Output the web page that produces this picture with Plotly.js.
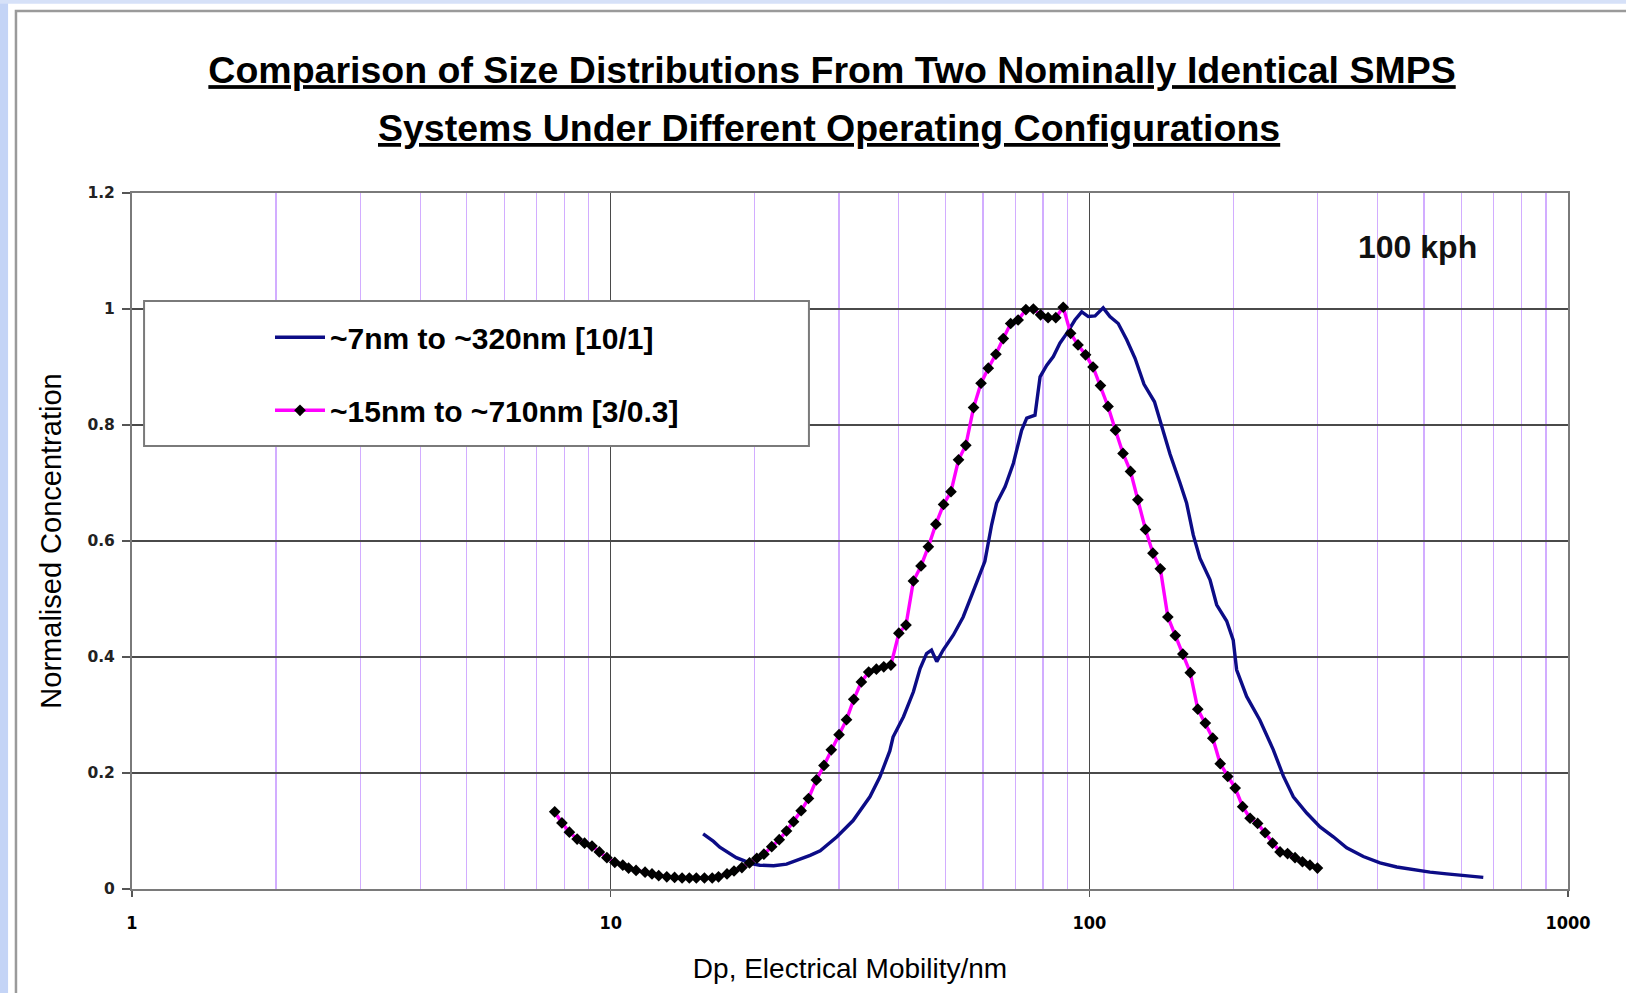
<!DOCTYPE html>
<html>
<head>
<meta charset="utf-8">
<script src="https://cdn.plot.ly/plotly-3.0.1.min.js"></script>
<style>html,body{margin:0;padding:0;background:#fff;}#chart{width:1626px;height:993px;}</style>
</head>
<body>
<div id="chart"></div>
<script>
// ~7nm to ~320nm [10/1] (navy line)
const blueX = [15.6,16.4,16.9,17.5,18.3,19.1,19.9,20.5,21.2,21.9,23.3,24.9,26.1,27.4,29.7,32.1,34.8,36.5,38.3,38.9,40.9,42.9,44.3,45.7,46.8,48.0,49.5,52.0,54.5,57.2,60.5,62.5,64.0,66.7,69.4,72.2,74.0,77.0,78.9,81.5,84.1,86.8,89.7,93.3,96.4,99.5,102.8,106.9,110.4,114.9,119.7,124.6,130.1,136.8,141.6,147.4,154.7,159.7,164.9,170.3,178.7,184.5,193.6,199.8,203.1,213.1,227.2,242.3,254.2,266.8,284.5,303.4,323.4,344.8,373.6,404.8,438.7,475.2,514.9,557.9,604.4,665.3];
const blueY = [0.095,0.082,0.072,0.064,0.054,0.048,0.043,0.041,0.040,0.040,0.043,0.051,0.058,0.066,0.090,0.118,0.159,0.193,0.238,0.262,0.297,0.340,0.380,0.406,0.412,0.392,0.412,0.438,0.469,0.513,0.565,0.628,0.665,0.694,0.734,0.791,0.812,0.817,0.883,0.903,0.918,0.941,0.958,0.981,0.995,0.987,0.988,1.002,0.987,0.975,0.947,0.915,0.870,0.840,0.800,0.750,0.700,0.665,0.610,0.570,0.533,0.490,0.462,0.429,0.378,0.332,0.291,0.240,0.195,0.159,0.131,0.107,0.090,0.071,0.056,0.045,0.038,0.033,0.029,0.026,0.023,0.020];

// ~15nm to ~710nm [3/0.3] (magenta line, black diamond markers)
const magX = [7.64,7.91,8.20,8.51,8.82,9.14,9.47,9.82,10.2,10.6,10.9,11.3,11.8,12.2,12.6,13.1,13.6,14.1,14.6,15.1,15.7,16.3,16.8,17.5,18.1,18.8,19.5,20.2,20.9,21.7,22.5,23.3,24.1,25.0,25.9,26.9,27.9,28.9,30.0,31.1,32.2,33.4,34.6,35.9,37.2,38.5,40.0,41.4,42.9,44.5,46.1,47.8,49.6,51.4,53.3,55.2,57.3,59.4,61.5,63.8,66.1,68.5,71.0,73.7,76.4,79.1,82.0,85.1,88.2,91.4,94.7,98.2,101.8,105.5,109.4,113.4,117.6,121.9,126.3,131.0,135.8,140.7,145.9,151.2,156.8,162.5,168.5,174.7,181.1,187.7,194.6,201.7,209.1,216.7,224.7,232.9,241.4,250.3,259.5,269.0,278.8,289.0,299.6];
const magY = [0.133,0.114,0.098,0.086,0.079,0.074,0.064,0.054,0.046,0.041,0.036,0.032,0.029,0.026,0.023,0.021,0.020,0.019,0.019,0.019,0.019,0.019,0.021,0.026,0.031,0.037,0.045,0.053,0.060,0.073,0.085,0.100,0.116,0.135,0.156,0.188,0.213,0.240,0.266,0.292,0.327,0.357,0.374,0.379,0.383,0.386,0.441,0.455,0.531,0.557,0.590,0.629,0.663,0.685,0.740,0.765,0.830,0.872,0.898,0.922,0.949,0.975,0.981,0.999,1.000,0.990,0.985,0.985,1.003,0.958,0.938,0.921,0.900,0.868,0.832,0.791,0.751,0.720,0.671,0.620,0.579,0.552,0.469,0.437,0.405,0.373,0.310,0.286,0.260,0.216,0.194,0.174,0.142,0.122,0.113,0.097,0.079,0.064,0.061,0.054,0.047,0.041,0.036];

const seriesNames = ['~7nm to ~320nm [10/1]', '~15nm to ~710nm [3/0.3]'];
const xTickVals = [1, 10, 100, 1000];
const xTickText = ['1', '10', '100', '1000'];
const yTickVals = [0, 0.2, 0.4, 0.6, 0.8, 1, 1.2];
const yTickText = ['0', '0.2', '0.4', '0.6', '0.8', '1', '1.2'];
const titleLines = ['Comparison of Size Distributions From Two Nominally Identical SMPS', 'Systems Under Different Operating Configurations'];
const xTitle = 'Dp, Electrical Mobility/nm';
const yTitle = 'Normalised Concentration';
const noteText = '100 kph';

const ARIAL = '"Liberation Sans", Arial, sans-serif';
const COND = '"DejaVu Sans Condensed", "Liberation Sans", sans-serif';

const traces = [
  {x: blueX, y: blueY, type: 'scatter', mode: 'lines', name: seriesNames[0], legendgroup: 'a',
   line: {color: '#0c0c86', width: 3.4}},
  {x: magX, y: magY, type: 'scatter', mode: 'lines+markers', name: seriesNames[1], legendgroup: 'b',
   line: {color: '#ff00ff', width: 3.4},
   marker: {symbol: 'diamond', size: 9, color: '#000000'}}
];

const layout = {
  width: 1626, height: 993,
  paper_bgcolor: '#ffffff', plot_bgcolor: '#ffffff',
  margin: {l: 132, r: 58, t: 193, b: 104, autoexpand: false},
  showlegend: true,
  title: {
    text: '<u>' + titleLines[0] + '</u>',
    font: {family: ARIAL, size: 37.5, color: '#000', weight: 'bold'},
    xref: 'paper', x: 0.4875, xanchor: 'center',
    yref: 'container', y: 1 - 70 / 993, yanchor: 'middle'
  },
  xaxis: {
    type: 'log', range: [0, 3], autorange: false,
    tickvals: xTickVals, ticktext: xTickText,
    tickfont: {family: COND, size: 18, color: '#000', weight: 'bold'},
    ticks: 'outside', ticklen: 6, tickcolor: '#555', tickwidth: 1.5,
    ticklabelstandoff: 10,
    showgrid: true, gridcolor: '#4a4a4a', gridwidth: 1.5,
    minor: {dtick: 'D1', showgrid: true, gridcolor: '#d2adff', gridwidth: 1.3, ticks: ''},
    showline: true, linecolor: '#7a7a7a', linewidth: 2, mirror: true,
    zeroline: false,
    title: {text: xTitle, font: {family: ARIAL, size: 28, color: '#000'}, standoff: 27}
  },
  yaxis: {
    range: [0, 1.2], autorange: false,
    tickvals: yTickVals, ticktext: yTickText,
    tickfont: {family: '"DejaVu Sans", sans-serif', size: 15.5, color: '#222', weight: 'bold'},
    ticks: 'outside', ticklen: 8, tickcolor: '#555', tickwidth: 1.5,
    ticklabelstandoff: 4,
    showgrid: true, gridcolor: '#4a4a4a', gridwidth: 1.5,
    showline: true, linecolor: '#7a7a7a', linewidth: 2, mirror: true,
    zeroline: false,
    title: {text: yTitle, font: {family: ARIAL, size: 29, color: '#000'}, standoff: 17}
  },
  legend: {
    x: 0.0961, xanchor: 'left', y: 0.83, yanchor: 'top',
    bgcolor: 'rgba(0,0,0,0)', borderwidth: 0,
    font: {family: ARIAL, size: 30, color: '#000', weight: 'bold'},
    itemwidth: 50, traceorder: 'grouped', tracegroupgap: 31
  },
  annotations: [
    {text: '<u>' + titleLines[1] + '</u>', xref: 'paper', yref: 'paper', x: 0.4854, y: (889 - 128) / 696,
     xanchor: 'center', yanchor: 'middle', showarrow: false,
     font: {family: ARIAL, size: 37.5, color: '#000', weight: 'bold'}},
    {text: noteText, xref: 'paper', yref: 'paper', x: 0.8955, y: 0.9224,
     xanchor: 'center', yanchor: 'middle', showarrow: false,
     font: {family: ARIAL, size: 32, color: '#111', weight: 'bold'}}
  ],
  shapes: [
    // window edge strips
    {type: 'rect', xref: 'paper', yref: 'paper', x0: -0.0925, x1: -0.0863, y0: -0.16, y1: 1.28,
     fillcolor: '#c4d4f6', line: {width: 0}, layer: 'below'},
    {type: 'rect', xref: 'paper', yref: 'paper', x0: -0.0925, x1: 1.05, y0: 1.2718, y1: 1.28,
     fillcolor: '#d6e1f8', line: {width: 0}, layer: 'below'},
    // chart area frame
    {type: 'rect', xref: 'paper', yref: 'paper', x0: -0.0808, x1: 1.05, y0: -0.16, y1: 1.2615,
     fillcolor: 'rgba(0,0,0,0)', line: {color: '#9a9a9a', width: 2.5}, layer: 'below'},
    // legend box
    {type: 'rect', xref: 'paper', yref: 'paper', x0: 0.0084, x1: 0.4714, y0: 0.6365, y1: 0.8448,
     fillcolor: '#ffffff', line: {color: '#7a7a7a', width: 2}, layer: 'above'}
  ]
};

Plotly.newPlot('chart', traces, layout, {displayModeBar: false, staticPlot: true});
</script>
</body>
</html>
